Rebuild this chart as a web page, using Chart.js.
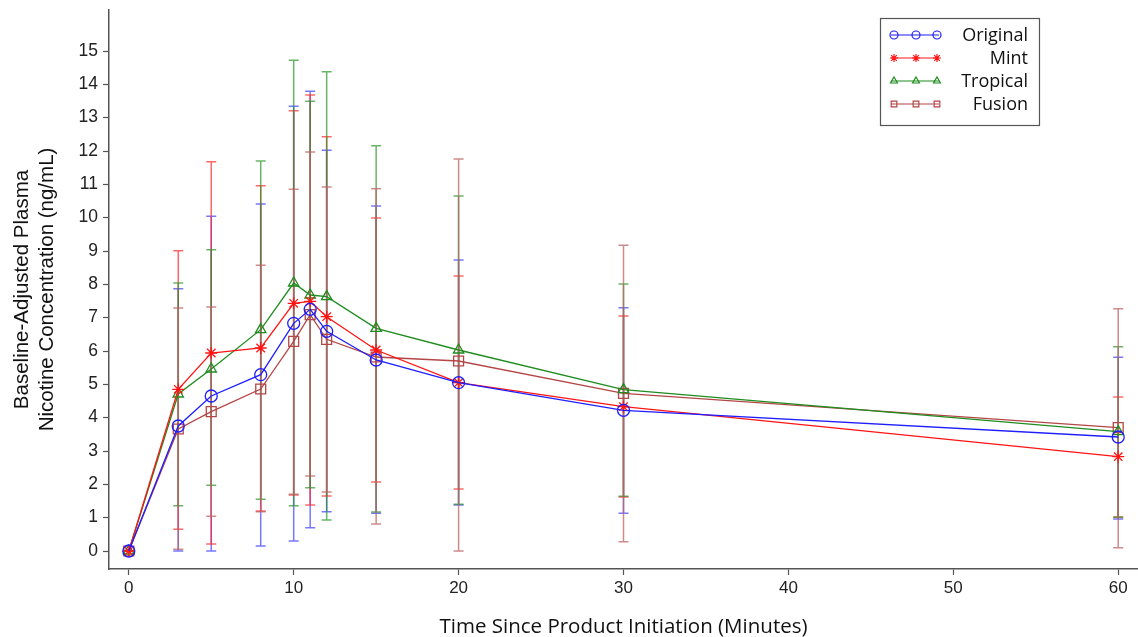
<!DOCTYPE html>
<html>
<head>
<meta charset="utf-8">
<script src="https://cdn.jsdelivr.net/npm/chart.js@4.4.1/dist/chart.umd.min.js"></script>
<style>
  body { margin: 0; background: #fff; }
  #wrap { width: 1138px; height: 637px; }
</style>
</head>
<body>
<div id="wrap"><canvas id="c"></canvas></div>
<script>
const minutes = [0, 3, 5, 8, 10, 11, 12, 15, 20, 30, 60]
const xTicks = [0, 10, 20, 30, 40, 50, 60]
const yTicks = [0, 1, 2, 3, 4, 5, 6, 7, 8, 9, 10, 11, 12, 13, 14, 15]

const originalMean = [0, 3.75, 4.65, 5.29, 6.83, 7.25, 6.59, 5.73, 5.05, 4.22, 3.42]
const originalHi = [0, 7.87, 10.04, 10.41, 13.34, 13.79, 12.02, 10.35, 8.73, 7.30, 5.81]
const originalLo = [0, 0, 0, 0.15, 0.30, 0.70, 1.18, 1.13, 1.38, 1.13, 0.96]

const mintMean = [0, 4.85, 5.94, 6.09, 7.43, 7.49, 7.03, 6.03, 5.05, 4.33, 2.83]
const mintHi = [0, 9.01, 11.68, 10.96, 13.21, 13.68, 12.43, 9.99, 8.25, 7.05, 4.62]
const mintLo = [0, 0.65, 0.21, 1.20, 1.68, 1.38, 1.65, 2.07, 1.86, 1.62, 1.02]

const tropicalMean = [0, 4.71, 5.46, 6.64, 8.04, 7.68, 7.63, 6.68, 6.03, 4.84, 3.58]
const tropicalHi = [0, 8.04, 9.04, 11.70, 14.72, 13.49, 14.38, 12.16, 10.65, 8.01, 6.13]
const tropicalLo = [0, 1.36, 1.97, 1.55, 1.36, 1.90, 0.93, 1.17, 1.40, 1.64, 1.01]

const fusionMean = [0, 3.66, 4.18, 4.86, 6.29, 7.09, 6.35, 5.82, 5.70, 4.73, 3.70]
const fusionHi = [0, 7.29, 7.32, 8.57, 10.85, 11.97, 10.92, 10.87, 11.76, 9.17, 7.27]
const fusionLo = [0, 0.05, 1.04, 1.18, 1.70, 2.25, 1.77, 0.81, 0, 0.28, 0.10]

const labels = ['Original', 'Mint', 'Tropical', 'Fusion']

function toPoints(values) {
  return minutes.map((m, i) => ({ x: m, y: values[i] }))
}

function makeSeries(label, values, hi, lo, color, barColor, style) {
  return {
    label: label,
    data: toPoints(values),
    hi: hi,
    lo: lo,
    barColor: barColor,
    borderColor: color,
    borderWidth: 1.3,
    pointStyle: style,
    pointRadius: style === 'rect' ? 7 : 6,
    pointBorderWidth: 1.3,
    pointBorderColor: color,
    pointBackgroundColor: 'rgba(0,0,0,0)',
    tension: 0,
    clip: false
  }
}

// mean +/- SD whiskers
const errorBars = {
  id: 'errorBars',
  beforeDatasetsDraw(chart) {
    const ctx = chart.ctx
    const xs = chart.scales.x
    const ys = chart.scales.y
    ctx.save()
    chart.data.datasets.forEach(ds => {
      ctx.strokeStyle = ds.barColor
      ctx.lineWidth = 1.5
      minutes.forEach((m, i) => {
        const px = xs.getPixelForValue(m)
        const top = ys.getPixelForValue(ds.hi[i])
        const bot = ys.getPixelForValue(ds.lo[i])
        ctx.beginPath()
        ctx.moveTo(px, top); ctx.lineTo(px, bot)
        ctx.moveTo(px - 5, top); ctx.lineTo(px + 5, top)
        ctx.moveTo(px - 5, bot); ctx.lineTo(px + 5, bot)
        ctx.stroke()
      })
    })
    ctx.restore()
  }
}

// legend box with three markers per entry
const boxLegend = {
  id: 'boxLegend',
  afterDraw(chart) {
    const ctx = chart.ctx
    ctx.save()
    ctx.strokeStyle = '#555'
    ctx.lineWidth = 1.2
    ctx.strokeRect(880.5, 18.5, 159, 107)
    ctx.font = '18px "Open Sans", Arial, sans-serif'
    ctx.textAlign = 'right'
    ctx.textBaseline = 'middle'
    const rows = [35, 58, 81, 104]
    chart.data.datasets.forEach((ds, i) => {
      const y = rows[i]
      ctx.strokeStyle = ds.borderColor
      ctx.lineWidth = 1.2
      ctx.beginPath()
      ctx.moveTo(891, y); ctx.lineTo(939, y)
      ctx.stroke()
      ctx.fillStyle = 'rgba(0,0,0,0)'
      ;[894, 916, 937].forEach(px => {
        Chart.helpers.drawPoint(ctx, { pointStyle: ds.pointStyle, radius: 4, borderWidth: 1.2, rotation: 0 }, px, y)
      })
      ctx.fillStyle = '#111'
      ctx.fillText(ds.label, 1028, y + 1)
    })
    ctx.restore()
  }
}

new Chart(document.getElementById('c'), {
  type: 'line',
  data: {
    datasets: [
      makeSeries(labels[0], originalMean, originalHi, originalLo, 'rgb(30,30,255)', 'rgba(60,60,255,0.7)', 'circle'),
      makeSeries(labels[1], mintMean, mintHi, mintLo, 'rgb(255,20,20)', 'rgba(255,40,40,0.7)', 'star'),
      makeSeries(labels[2], tropicalMean, tropicalHi, tropicalLo, 'rgb(30,140,30)', 'rgba(40,150,40,0.7)', 'triangle'),
      makeSeries(labels[3], fusionMean, fusionHi, fusionLo, 'rgb(180,70,70)', 'rgba(190,100,100,0.75)', 'rect')
    ]
  },
  options: {
    responsive: true,
    maintainAspectRatio: false,
    animation: false,
    layout: { autoPadding: false, padding: { top: 10, right: 0, left: 0, bottom: 0 } },
    plugins: {
      legend: { display: false },
      tooltip: { enabled: false }
    },
    scales: {
      x: {
        type: 'linear',
        min: -1.2,
        max: 61.2,
        afterBuildTicks: s => { s.ticks = xTicks.map(v => ({ value: v })) },
        afterFit: s => { s.height = 68; s.paddingLeft = 0; s.paddingRight = 0 },
        grid: { drawOnChartArea: false, tickLength: 6, color: '#555', tickWidth: 1.2 },
        border: { color: '#555', width: 1.5 },
        ticks: { color: '#222', padding: 3, font: { size: 17, family: '"Liberation Sans", Arial' } },
        title: {
          display: true,
          text: 'Time Since Product Initiation (Minutes)',
          color: '#111',
          padding: { top: 0, bottom: -2 },
          font: { size: 20.5, family: '"Open Sans", Arial' }
        }
      },
      y: {
        min: -0.54,
        max: 16.23,
        afterBuildTicks: s => { s.ticks = yTicks.map(v => ({ value: v })) },
        afterFit: s => { s.width = 109; s.paddingTop = 0; s.paddingBottom = 0 },
        grid: { drawOnChartArea: false, tickLength: 6, color: '#555', tickWidth: 1.2 },
        border: { color: '#555', width: 1.5 },
        ticks: { color: '#222', padding: 5, font: { size: 17.5, family: '"Liberation Sans", Arial' } },
        title: {
          display: true,
          text: ['Baseline-Adjusted Plasma', 'Nicotine Concentration (ng/mL)'],
          color: '#111',
          padding: { top: 10, bottom: 0 },
          font: { size: 20.5, family: '"Liberation Sans", Arial' }
        }
      }
    }
  },
  plugins: [errorBars, boxLegend]
})
</script>
</body>
</html>
